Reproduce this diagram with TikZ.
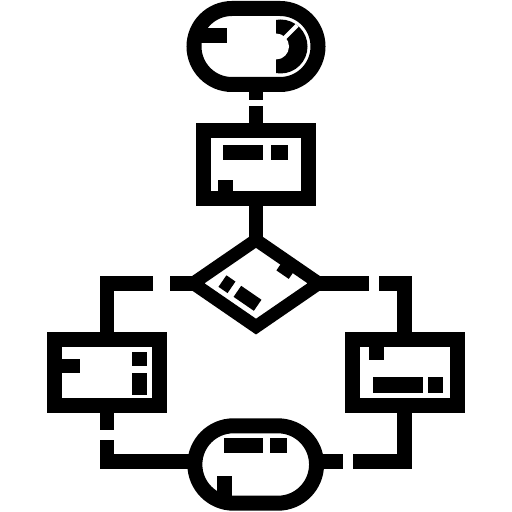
\documentclass[tikz,border=0pt]{standalone}
\begin{document}
\begin{tikzpicture}[x=0.5pt,y=-0.5pt,
  ring/.style={draw=black,line width=7.5pt,inner sep=0pt,outer sep=0pt},
  wire/.style={draw=black,line width=7.3pt,line join=miter},
  diam/.style={draw=black,line width=6.5pt,line join=miter}]
\useasboundingbox (0,0) rectangle (512,512);
\fill[white] (0,0) rectangle (512,512);
% shapes
\node[ring,rounded corners=19pt,minimum width=62pt,minimum height=38pt] (t) at (256,46.5) {};
\node[ring,minimum width=52.5pt,minimum height=33.85pt] (b) at (256,164.65) {};
\node[ring,minimum width=52.2pt,minimum height=33.3pt] (l) at (107,372.5) {};
\node[ring,minimum width=52.5pt,minimum height=33.3pt] (r) at (404.5,372.5) {};
\node[ring,rounded corners=19.35pt,minimum width=60.85pt,minimum height=38.7pt] (o) at (255.7,464.5) {};
\coordinate (dT) at (256,240);
\coordinate (dR) at (319,283.3);
\coordinate (dB) at (256,326.6);
\coordinate (dL) at (193,283.3);
\draw[diam] (dT) -- (dR) -- (dB) -- (dL) -- cycle;
% connector ends
\coordinate (g1) at (256,100);
\coordinate (g2) at (256,106.5);
\coordinate (g3) at (170,283.3);
\coordinate (g4) at (153,283.3);
\coordinate (g5) at (107,430);
\coordinate (g6) at (107,440);
\coordinate (g7) at (369.3,283.3);
\coordinate (g8) at (379.3,283.3);
\coordinate (g9) at (352.7,461.5);
\coordinate (g10) at (342.7,461.5);
\coordinate (oW) at (196,461.5);
\coordinate (oE) at (315,461.5);
% connectors
\draw[wire] (t.south) -- (g1);
\draw[wire] (g2) -- (b.north);
\draw[wire] (b.south) -- (dT);
\draw[wire] (dL) -- (g3);
\draw[wire] (g4) -| (l.north);
\draw[wire] (l.south) -- (g5);
\draw[wire] (g6) |- (oW);
\draw[wire] (dR) -- (g7);
\draw[wire] (g8) -| (r.north);
\draw[wire] (r.south) |- (g9);
\draw[wire] (g10) -- (oE);
% top oval details
\fill (200,28) rectangle (227,43);
\begin{scope}
  \clip (276,0) rectangle (330,100);
  \fill (280.5,46.5) circle[radius=13.5pt];
\end{scope}
\fill[white] (276,46.5) circle[radius=6.5pt];
\draw[white,line width=2pt] (276,46.5) -- (297.2,25.3);
% top box details
\fill (222.7,145) rectangle (262.7,160);
\fill (270.7,145) rectangle (288.3,160);
\fill (218.3,180) rectangle (233.3,192);
% diamond details
\fill (218.48,286.85) -- (227.55,293.08) -- (235.48,281.54) -- (226.41,275.30) -- cycle;
\fill (233.57,296.86) -- (253.85,310.80) -- (261.45,299.75) -- (241.17,285.81) -- cycle;
\fill (284.04,259.27) -- (296.41,267.77) -- (288.76,278.90) -- (276.39,270.40) -- cycle;
% left box details
\fill (60,359) rectangle (80,373);
\fill (132.3,351.7) rectangle (147.3,366);
\fill (132.3,372.7) rectangle (147.3,395);
% right box details
\fill (369.3,345) rectangle (384.3,360);
\fill (372.7,377.3) rectangle (422.7,392.7);
\fill (428.3,377.3) rectangle (442.7,392.7);
% bottom oval details
\fill (224.3,438.3) rectangle (263.3,453.3);
\fill (270,438.3) rectangle (287.3,453.3);
\fill (216.7,476) rectangle (231.7,500);
\end{tikzpicture}
\end{document}
